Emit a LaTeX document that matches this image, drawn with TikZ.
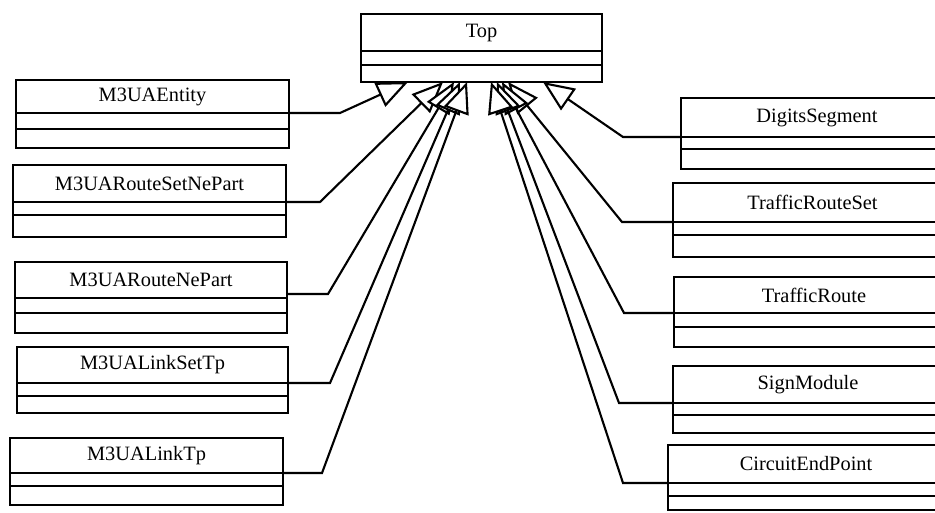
\documentclass[tikz,border=0pt]{standalone}
\usepackage{fontspec}
\setmainfont{Liberation Serif}
\usetikzlibrary{positioning,arrows.meta}

\tikzset{
  part/.style={draw, line width=1.2pt, inner sep=0pt, outer sep=0pt, font=\fontsize{11.6}{13}\selectfont},
  gen/.style={line width=1.2pt, -{Triangle[open, fill=white, length=0.62cm, width=0.52cm]}}
}

\begin{document}
\begin{tikzpicture}[x=0.02cm, y=-0.02cm]
    \useasboundingbox (0,0) rectangle (935,513);
    \clip (0,0) rectangle (935,513);
    % class boxes: name/left/top/width/name, attribute and operation heights/label
    \foreach \n/\x/\y/\w/\ha/\hb/\hc/\l in {
        topo/361/14/241/37/14/17/Top,
        ent/16/80/273/33/16/19/M3UAEntity,
        rsn/13/165/273/37/13/22/M3UARouteSetNePart,
        rne/15/262/272/36/15/20/M3UARouteNePart,
        lst/17/347/271/36/13/17/M3UALinkSetTp,
        ltp/10/438/273/35/13/19/M3UALinkTp,
        dig/681/98/272/39/12/20/DigitsSegment,
        trs/673/183/279/39/13/22/TrafficRouteSet,
        tr/674/277/280/36/14/20/TrafficRoute,
        sig/673/366/270/37/12/18/SignModule,
        cep/668/445/276/38/13/14/CircuitEndPoint} {
        \node[part, minimum width=\w*0.02cm, minimum height=\ha*0.02cm] (\n) at (\x+\w/2, \y+\ha/2) {\l};
        \node[part, minimum width=\w*0.02cm, minimum height=\hb*0.02cm, below=0pt of \n] (\n-a) {};
        \node[part, minimum width=\w*0.02cm, minimum height=\hc*0.02cm, below=0pt of \n-a] (\n-o) {};
    }
    % arrow tips on the bottom of Top
    \foreach \i/\x in {1/408,2/443,3/454,4/460,5/467,6/543,7/508,8/502,9/497,10/491} {
        \coordinate (t\i) at (\x,82);
    }
    % left side
    \draw[gen] (ent.south east) -- ++(51,0) -- (t1);
    \draw[gen] (rsn.south east) -- ++(34,0) -- (t2);
    \draw[gen] ([yshift=0.08cm]rne.south east) -- ++(41,0) -- (t3);
    \draw[gen] (lst.south east) -- ++(42,0) -- (t4);
    \draw[gen] (ltp.south east) -- ++(39,0) -- (t5);
    % right side
    \draw[gen] (dig.south west) -- ++(-58,0) -- (t6);
    \draw[gen] (trs.south west) -- ++(-51,0) -- (t7);
    \draw[gen] (tr.south west) -- ++(-50,0) -- (t8);
    \draw[gen] (sig.south west) -- ++(-54,0) -- (t9);
    \draw[gen] (cep.south west) -- ++(-45,0) -- (t10);
\end{tikzpicture}
\end{document}
